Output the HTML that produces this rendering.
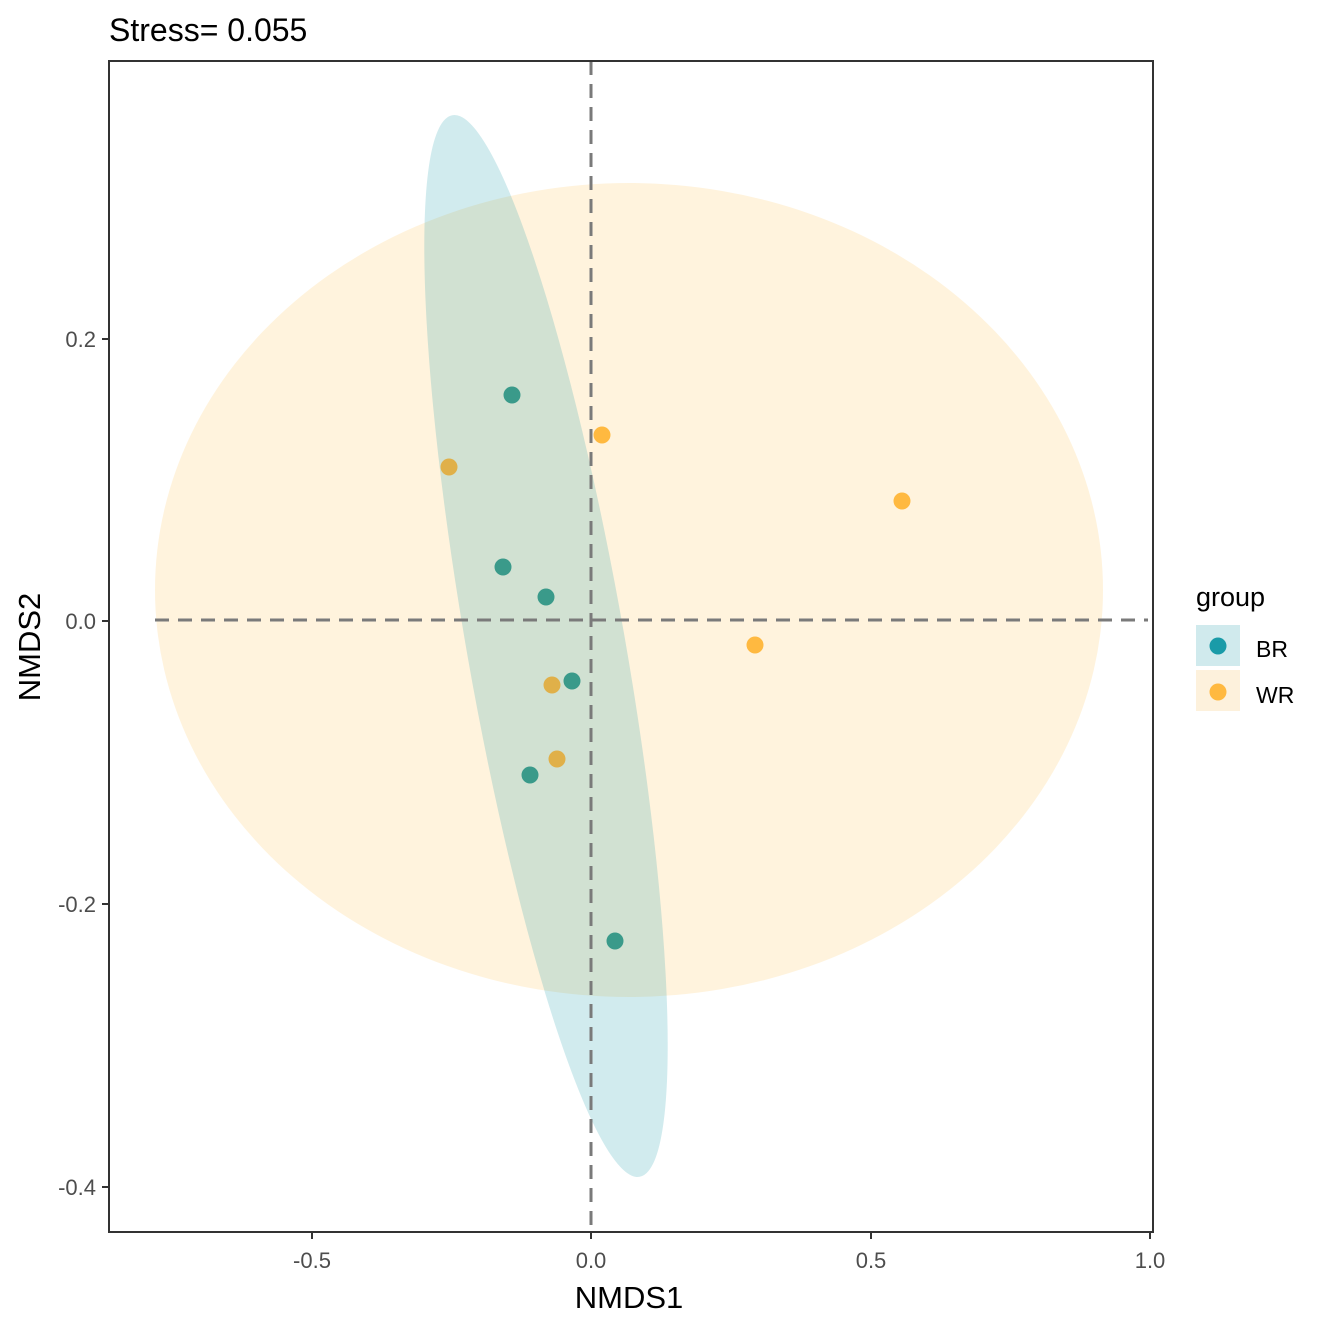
<!DOCTYPE html>
<html><head><style>body{margin:0;background:#fff}</style></head><body>
<svg width="1322" height="1324" xmlns="http://www.w3.org/2000/svg" font-family="Liberation Sans, Arial, sans-serif">
<rect width="1322" height="1324" fill="#fff"/>
<ellipse cx="629" cy="590" rx="474" ry="407" fill="#FFB733" fill-opacity="0.17"/>
<ellipse cx="546" cy="646" rx="79" ry="539" transform="rotate(-10 546 646)" fill="#1a9ba8" fill-opacity="0.2"/>
<line x1="591" y1="61" x2="591" y2="1232" stroke="#7a7a7a" stroke-width="3" stroke-dasharray="14,9"/>
<line x1="155" y1="620" x2="1148" y2="620" stroke="#7a7a7a" stroke-width="3" stroke-dasharray="14,9"/>
<g fill="#3a9a8a">
<circle cx="512" cy="395" r="8.5"/><circle cx="503" cy="567" r="8.5"/><circle cx="546" cy="597" r="8.5"/><circle cx="572" cy="681" r="8.5"/><circle cx="530" cy="775" r="8.5"/><circle cx="615" cy="941" r="8.5"/>
</g>
<g fill="#ffb940">
<circle cx="602" cy="435" r="8.5"/><circle cx="902" cy="501" r="8.5"/><circle cx="755" cy="645" r="8.5"/>
</g>
<g fill="#e0b049">
<circle cx="449" cy="467" r="8.5"/><circle cx="552" cy="685" r="8.5"/><circle cx="557" cy="759" r="8.5"/>
</g>
<rect x="109" y="61" width="1044" height="1171" fill="none" stroke="#333" stroke-width="2"/>
<g stroke="#333" stroke-width="2">
<line x1="312" y1="1232" x2="312" y2="1239"/><line x1="591" y1="1232" x2="591" y2="1239"/><line x1="871" y1="1232" x2="871" y2="1239"/><line x1="1150" y1="1232" x2="1150" y2="1239"/>
<line x1="102" y1="339" x2="109" y2="339"/><line x1="102" y1="621" x2="109" y2="621"/><line x1="102" y1="904" x2="109" y2="904"/><line x1="102" y1="1187" x2="109" y2="1187"/>
</g>
<g fill="#4d4d4d" font-size="22" text-anchor="middle">
<text x="312" y="1268">-0.5</text><text x="591" y="1268">0.0</text><text x="871" y="1268">0.5</text><text x="1150" y="1268">1.0</text>
</g>
<g fill="#4d4d4d" font-size="22" text-anchor="end">
<text x="96" y="347">0.2</text><text x="96" y="629">0.0</text><text x="96" y="912">-0.2</text><text x="96" y="1195">-0.4</text>
</g>
<text x="629" y="1308" font-size="31" text-anchor="middle" fill="#000">NMDS1</text>
<text transform="translate(40 647) rotate(-90)" font-size="31" text-anchor="middle" fill="#000">NMDS2</text>
<text x="109" y="41" font-size="32" fill="#000">Stress= 0.055</text>
<text x="1196" y="606" font-size="27" fill="#000">group</text>
<rect x="1196" y="625" width="44" height="41" fill="#d0eaed"/>
<circle cx="1218" cy="646" r="8.5" fill="#1a9ba8"/>
<rect x="1196" y="670" width="44" height="41" fill="#fdf1dc"/>
<circle cx="1218" cy="692" r="8.5" fill="#ffb940"/>
<text x="1256" y="657" font-size="23" fill="#000">BR</text>
<text x="1256" y="703" font-size="23" fill="#000">WR</text>
</svg>
</body></html>
